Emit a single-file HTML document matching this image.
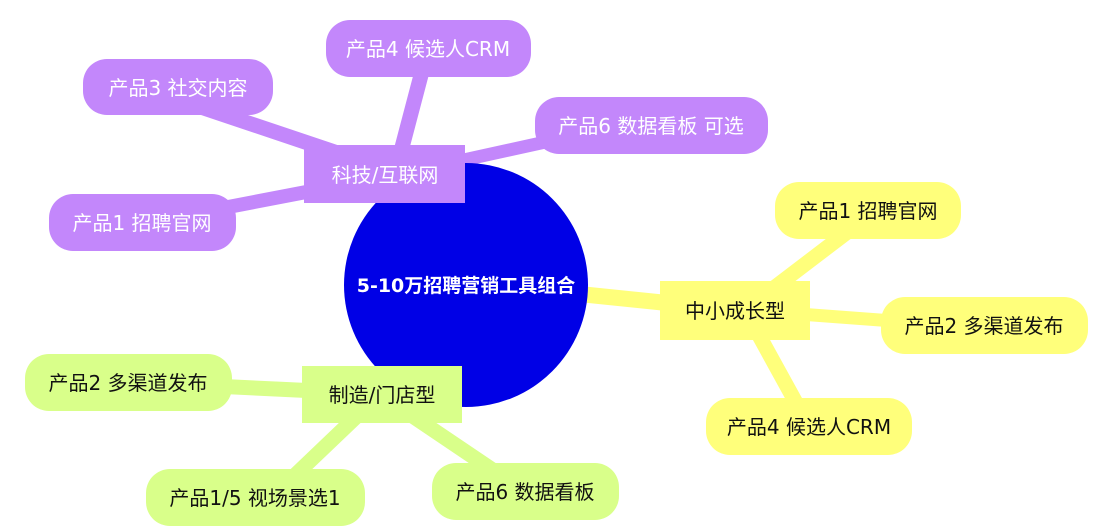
<!DOCTYPE html>
<html><head><meta charset="utf-8"><style>
html,body{margin:0;padding:0;background:#fff;}
svg{display:block;}
text{font-family:"DejaVu Sans","Noto Sans CJK SC",sans-serif;font-size:20px;dominant-baseline:central;text-anchor:middle;}
</style></head><body>
<svg width="1110" height="531" viewBox="0 0 1110 531" xmlns="http://www.w3.org/2000/svg">
<g stroke-linecap="butt">
<g stroke="#c387fb">
<line x1="400" y1="174" x2="180" y2="100" stroke-width="15"/>
<line x1="395" y1="174" x2="425" y2="60" stroke-width="15"/>
<line x1="400" y1="174" x2="600" y2="130" stroke-width="13"/>
<line x1="400" y1="174" x2="150" y2="222" stroke-width="14"/>
</g>
<g stroke="#ffff7b">
<line x1="560" y1="292" x2="735" y2="310" stroke-width="16"/>
<line x1="745" y1="310" x2="850" y2="230" stroke-width="15"/>
<line x1="745" y1="310" x2="960" y2="326" stroke-width="13"/>
<line x1="745" y1="310" x2="800" y2="410" stroke-width="15"/>
</g>
<g stroke="#d9ff8a">
<line x1="380" y1="394" x2="130" y2="382" stroke-width="15"/>
<line x1="380" y1="394" x2="290" y2="480" stroke-width="15"/>
<line x1="380" y1="394" x2="500" y2="475" stroke-width="15"/>
</g>
</g>
<circle cx="466" cy="285" r="122" fill="#0000e6"/>
<text x="466" y="286" fill="#fff" font-weight="bold" style="font-size:19px">5-10万招聘营销工具组合</text>

<rect x="304" y="145" width="161" height="58" fill="#c387fb"/>
<text x="385" y="175" fill="#fff">科技/互联网</text>
<rect x="660" y="281" width="150" height="59" fill="#ffff7b"/>
<text x="735" y="311" fill="#111">中小成长型</text>
<rect x="302" y="366" width="160" height="57" fill="#d9ff8a"/>
<text x="382" y="395" fill="#111">制造/门店型</text>

<g fill="#c387fb">
<rect x="326" y="20" width="205" height="57" rx="24"/>
<rect x="83" y="59" width="190" height="56" rx="24"/>
<rect x="535" y="97" width="233" height="57" rx="24"/>
<rect x="49" y="194" width="187" height="57" rx="24"/>
</g>
<g fill="#fff">
<text x="428" y="49">产品4 候选人CRM</text>
<text x="178" y="88">产品3 社交内容</text>
<text x="651" y="126">产品6 数据看板 可选</text>
<text x="142" y="223">产品1 招聘官网</text>
</g>
<g fill="#ffff7b">
<rect x="775" y="182" width="186" height="57" rx="24"/>
<rect x="881" y="297" width="207" height="57" rx="24"/>
<rect x="706" y="398" width="206" height="57" rx="24"/>
</g>
<g fill="#111">
<text x="868" y="211">产品1 招聘官网</text>
<text x="984" y="326">产品2 多渠道发布</text>
<text x="809" y="427">产品4 候选人CRM</text>
</g>
<g fill="#d9ff8a">
<rect x="25" y="354" width="207" height="57" rx="24"/>
<rect x="146" y="469" width="219" height="57" rx="24"/>
<rect x="432" y="463" width="187" height="57" rx="24"/>
</g>
<g fill="#111">
<text x="128" y="383">产品2 多渠道发布</text>
<text x="255" y="498">产品1/5 视场景选1</text>
<text x="525" y="492">产品6 数据看板</text>
</g>
</svg>
</body></html>
